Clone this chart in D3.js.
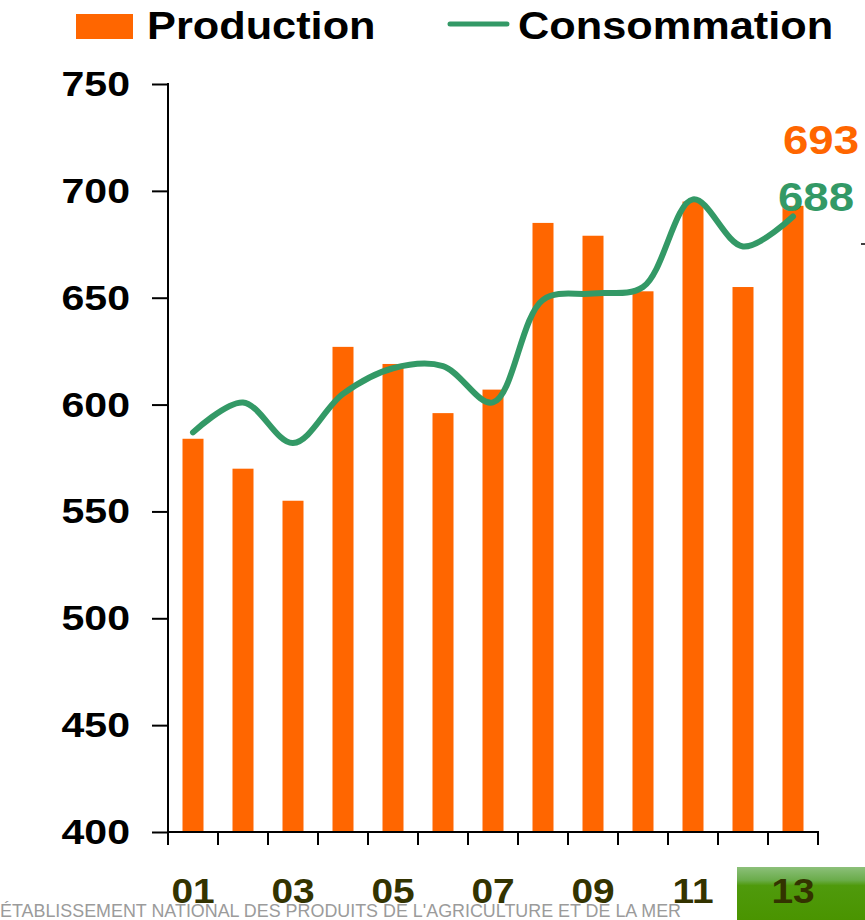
<!DOCTYPE html>
<html>
<head>
<meta charset="utf-8">
<script src="https://cdn.jsdelivr.net/npm/d3@7"></script>
<style>
  html, body { margin: 0; padding: 0; background: #fff; }
  svg { display: block; font-family: "Liberation Sans", Arial, sans-serif; }
</style>
</head>
<body>
<svg id="chart" width="865" height="920"></svg>
<script>
// data
const years = ["01", "02", "03", "04", "05", "06", "07", "08", "09", "10", "11", "12", "13"];
const production = [584, 570, 555, 627, 619, 596, 607, 685, 679, 653, 695, 655, 693];
const consommation = [587, 601, 582, 605, 617, 618, 601, 649, 652, 655, 696, 674, 688];
const yTicks = [400, 450, 500, 550, 600, 650, 700, 750];
const xLabels = ["01", "03", "05", "07", "09", "11", "13"];

const orange = "#ff6600";
const green = "#339966";
const olive = "#333300";
const stretch = 1.14; // the picture is a bit wider than the font

const svg = d3.select("#chart");

const x = d3.scaleBand().domain(years).range([168, 818]);
const y = d3.scaleLinear().domain([400, 750]).range([832, 84]);
const barW = x.bandwidth() * 0.42;

// footer strip
const defs = svg.append("defs");
const grad = defs.append("linearGradient")
  .attr("id", "greenbox").attr("x1", 0).attr("y1", 0).attr("x2", 0).attr("y2", 1);
grad.append("stop").attr("offset", "0%").attr("stop-color", "#8cc07a");
grad.append("stop").attr("offset", "25%").attr("stop-color", "#6aac4a");
grad.append("stop").attr("offset", "35%").attr("stop-color", "#4f9a0c");
grad.append("stop").attr("offset", "100%").attr("stop-color", "#4a9400");

svg.append("rect")
  .attr("x", 737).attr("y", 867).attr("width", 128).attr("height", 53)
  .attr("fill", "url(#greenbox)");

svg.append("text")
  .attr("x", 0).attr("y", 917)
  .attr("font-size", 19)
  .attr("fill", "#8a8a8a")
  .attr("opacity", 0.85)
  .attr("textLength", 681)
  .attr("lengthAdjust", "spacingAndGlyphs")
  .text("ÉTABLISSEMENT NATIONAL DES PRODUITS DE L'AGRICULTURE ET DE LA MER");

// bars
svg.append("g")
  .selectAll("rect")
  .data(production)
  .join("rect")
  .attr("x", (d, i) => x(years[i]) + (x.bandwidth() - barW) / 2)
  .attr("y", d => y(d))
  .attr("width", barW)
  .attr("height", d => y(400) - y(d))
  .attr("fill", orange);

// y axis
const yAxis = svg.append("g")
  .attr("transform", "translate(168,0)")
  .call(d3.axisLeft(y).tickValues(yTicks).tickSize(16).tickSizeOuter(0));
yAxis.select(".domain").remove();
yAxis.selectAll(".tick line").attr("stroke", "#000").attr("stroke-width", 2);
yAxis.selectAll(".tick text")
  .attr("x", 0)
  .attr("transform", `translate(-38,0) scale(${stretch},1)`)
  .attr("font-size", 36)
  .attr("font-weight", "bold")
  .attr("fill", "#000")
  .attr("font-family", "Liberation Sans, Arial, sans-serif");
svg.append("line")
  .attr("x1", 168).attr("x2", 168).attr("y1", y(750) - 1).attr("y2", 845)
  .attr("stroke", "#000").attr("stroke-width", 2);

// x axis (ticks on band edges)
const edges = years.map(d => x(d)).concat([x.range()[1]]);
svg.append("line")
  .attr("x1", 168).attr("x2", 819).attr("y1", y(400)).attr("y2", y(400))
  .attr("stroke", "#000").attr("stroke-width", 2);
svg.append("g")
  .selectAll("line")
  .data(edges)
  .join("line")
  .attr("x1", d => d).attr("x2", d => d)
  .attr("y1", y(400)).attr("y2", y(400) + 13)
  .attr("stroke", "#000").attr("stroke-width", 2);

svg.append("g")
  .selectAll("text")
  .data(xLabels)
  .join("text")
  .attr("transform", d => `translate(${x(d) + x.bandwidth() / 2},903) scale(1.08,1)`)
  .attr("text-anchor", "middle")
  .attr("font-size", 36)
  .attr("font-weight", "bold")
  .attr("fill", olive)
  .text(d => d);

// consumption line
const line = d3.line()
  .x((d, i) => x(years[i]) + x.bandwidth() / 2)
  .y(d => y(d))
  .curve(d3.curveCatmullRom.alpha(0.5));

svg.append("path")
  .datum(consommation)
  .attr("d", line)
  .attr("fill", "none")
  .attr("stroke", green)
  .attr("stroke-width", 6)
  .attr("stroke-linecap", "round")
  .attr("stroke-linejoin", "round");

// end labels
const last = years.length - 1;
const lx = x(years[last]) + x.bandwidth() / 2 - 10;
svg.append("text")
  .attr("transform", `translate(${lx},${y(production[last]) - 52}) scale(${stretch},1)`)
  .attr("font-size", 40).attr("font-weight", "bold").attr("fill", orange)
  .text(production[last]);
svg.append("text")
  .attr("transform", `translate(${lx - 5},${y(consommation[last]) - 6}) scale(${stretch},1)`)
  .attr("font-size", 40).attr("font-weight", "bold").attr("fill", green)
  .text(consommation[last]);

// stray tick on the right edge
svg.append("line")
  .attr("x1", 861).attr("x2", 866).attr("y1", 244).attr("y2", 244)
  .attr("stroke", "#000").attr("stroke-width", 1.5);

// legend
svg.append("rect")
  .attr("x", 76).attr("y", 14).attr("width", 57).attr("height", 25)
  .attr("fill", orange);
svg.append("text")
  .attr("transform", `translate(147,39) scale(${stretch},1)`)
  .attr("font-size", 38).attr("font-weight", "bold").attr("fill", "#000")
  .text("Production");
svg.append("line")
  .attr("x1", 450).attr("x2", 507).attr("y1", 24).attr("y2", 24)
  .attr("stroke", green).attr("stroke-width", 5).attr("stroke-linecap", "round");
svg.append("text")
  .attr("transform", `translate(518,39) scale(${stretch},1)`)
  .attr("font-size", 38).attr("font-weight", "bold").attr("fill", "#000")
  .text("Consommation");
</script>
</body>
</html>
